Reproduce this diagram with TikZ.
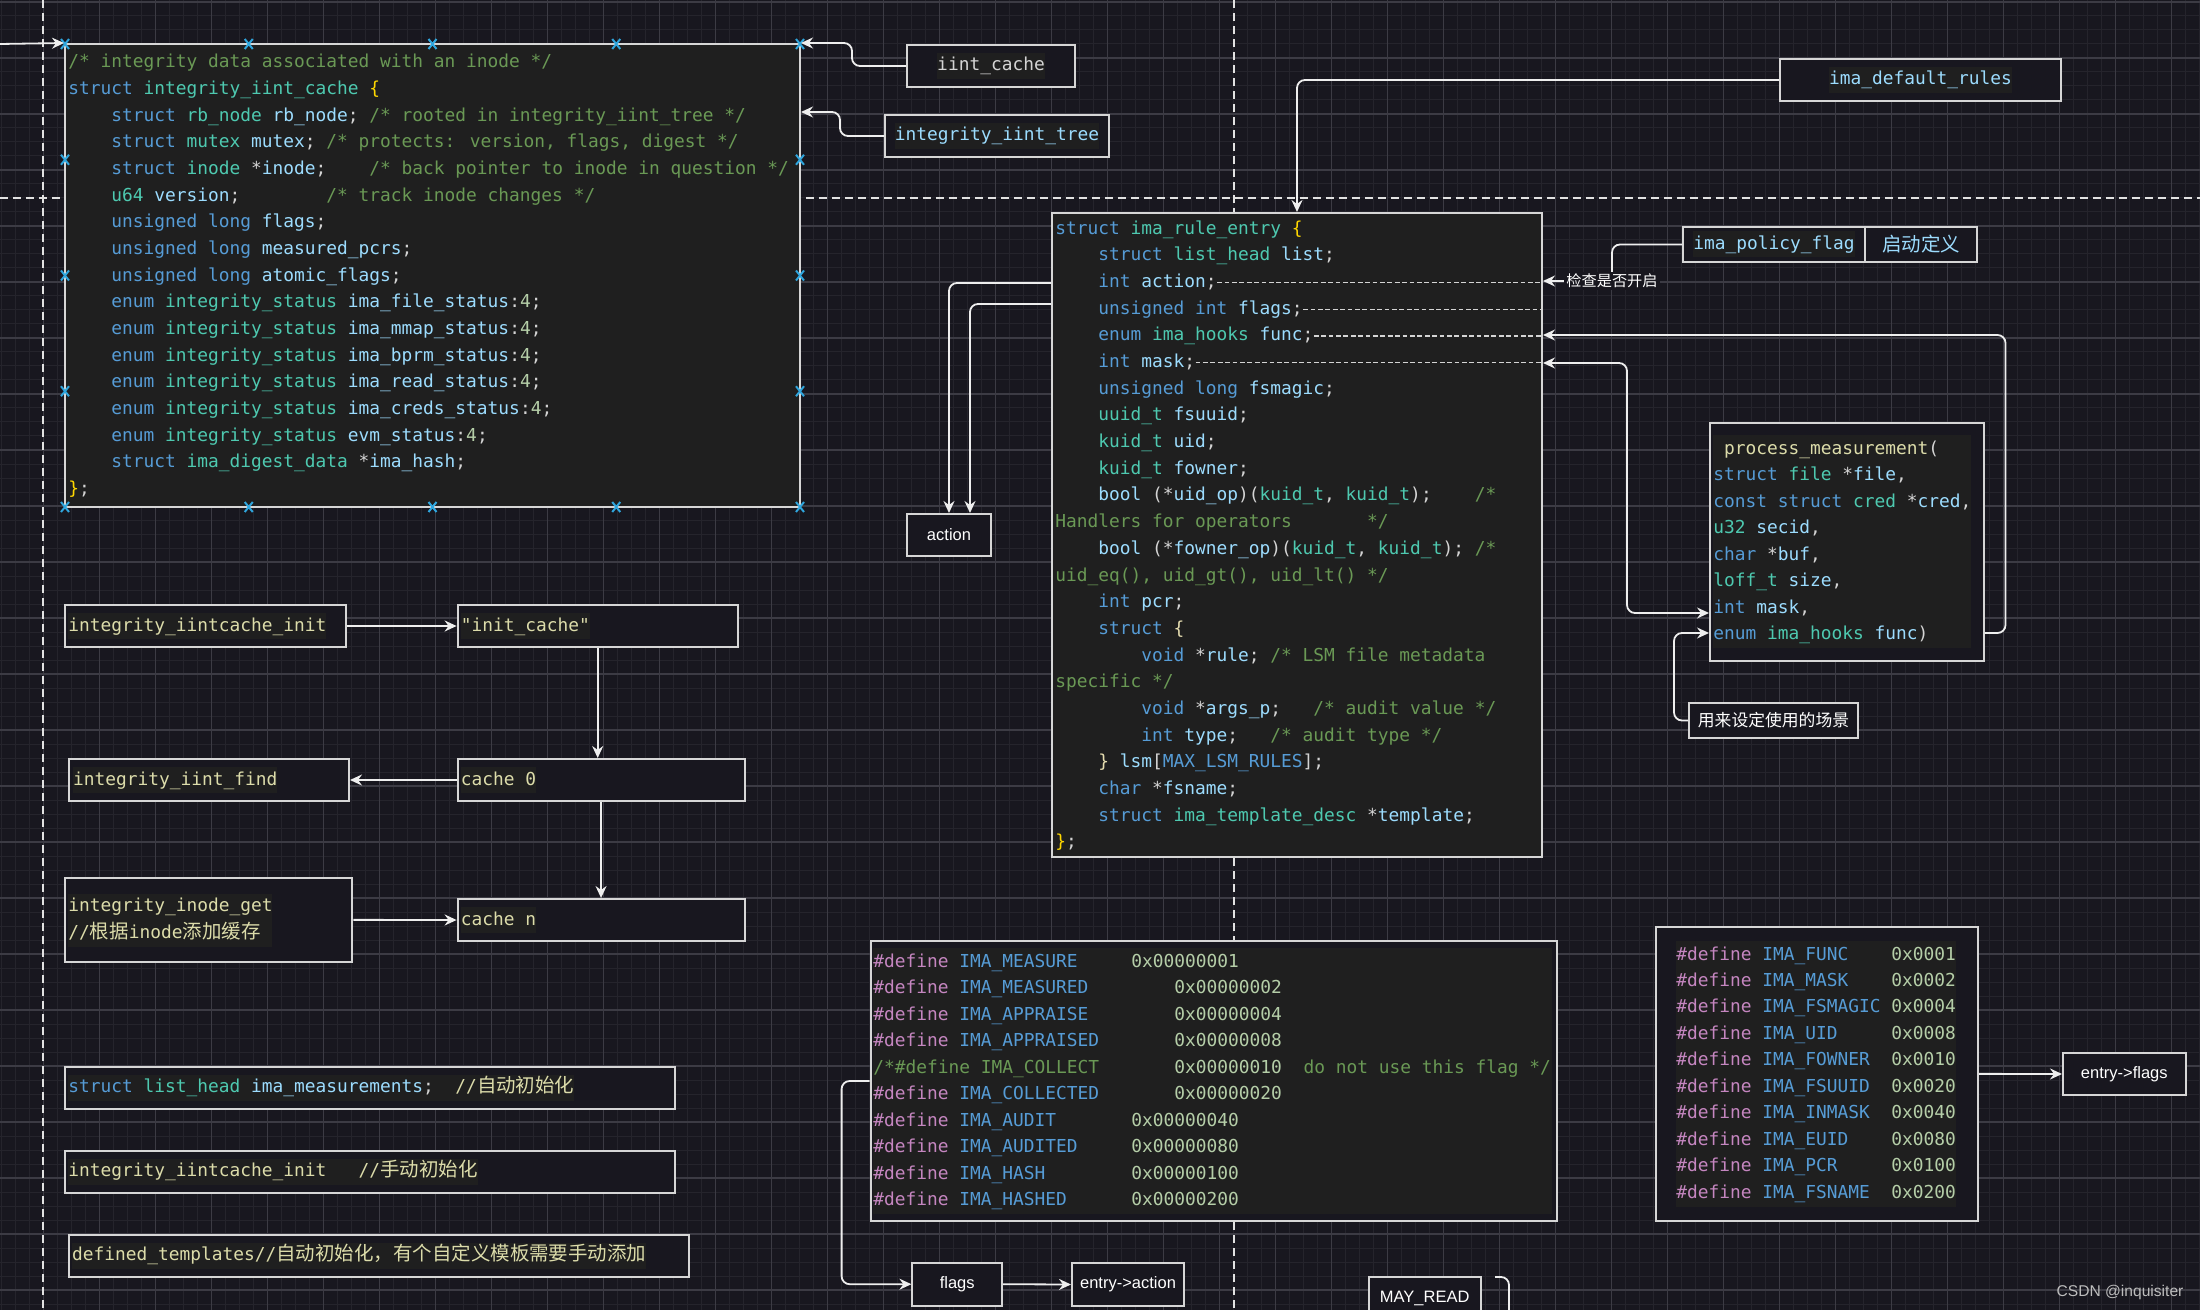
\documentclass[tikz,border=0pt]{standalone}
\usepackage{fontspec}
\newfontfamily\codefont{DejaVu Sans Mono}
\newfontfamily\cjkcode{Noto Sans CJK SC}[Scale=1.09]
\newfontfamily\cjk{Noto Sans CJK SC}
\newfontfamily\labfont{Liberation Sans}
\usetikzlibrary{arrows.meta,fit}
\definecolor{canvas}{HTML}{18171F}
\definecolor{gridminor}{HTML}{25242C}
\definecolor{gridmajor}{HTML}{3C3B44}
\definecolor{codebg}{HTML}{1F1F1F}
\definecolor{boxline}{HTML}{D6D6D6}
\definecolor{connline}{HTML}{EEEEEE}
\definecolor{dashline}{HTML}{E2E2E2}
\definecolor{handle}{HTML}{2FA6DE}
\definecolor{ckw}{HTML}{569CD6}
\definecolor{cty}{HTML}{4EC9B0}
\definecolor{cva}{HTML}{9CDCFE}
\definecolor{ccm}{HTML}{6A9955}
\definecolor{cnu}{HTML}{B5CEA8}
\definecolor{cfn}{HTML}{DCDCAA}
\definecolor{cpp}{HTML}{C586C0}
\definecolor{cbr}{HTML}{FFD700}
\definecolor{cbr2}{HTML}{E6DDB0}
\definecolor{ctx}{HTML}{D4D4D4}
\definecolor{wmark}{HTML}{BDBDBD}
\newcommand\cK[1]{\textcolor{ckw}{#1}}
\newcommand\cT[1]{\textcolor{cty}{#1}}
\newcommand\cV[1]{\textcolor{cva}{#1}}
\newcommand\cC[1]{\textcolor{ccm}{#1}}
\newcommand\cN[1]{\textcolor{cnu}{#1}}
\newcommand\cF[1]{\textcolor{cfn}{#1}}
\newcommand\cP[1]{\textcolor{cpp}{#1}}
\newcommand\cB[1]{\textcolor{cbr}{#1}}
\newcommand\cBb[1]{\textcolor{cbr2}{#1}}
\newcommand\codelines[5]{%
  \foreach \cl [count=\i from 0] in {#5} {\node[codeln] (#1\i) at (#2, {#3+\i*#4}) {\cl};}}
\tikzset{
  ctip/.tip={Stealth[length=6pt,width=5.5pt,inset=2pt]},
  box/.style={draw=boxline, line width=1pt, fill=canvas, inner sep=0pt},
  codebox/.style={box, fill=codebg},
  codeln/.style={anchor=west, inner sep=0pt, text=ctx,
    font={\codefont\fontsize{8.93pt}{11pt}\selectfont}, text height=7pt, text depth=2pt},
  hl/.style={codeln, fill=codebg, inner ysep=2pt},
  lab/.style={text=white, inner sep=0pt, font={\labfont\fontsize{8.25pt}{10pt}\selectfont}},
  cjklab/.style={text=white, inner sep=1pt, font={\cjk\fontsize{8.4pt}{10pt}\selectfont}},
  conn/.style={draw=connline, line width=0.9pt, rounded corners=4pt, -ctip},
  conn2/.style={draw=connline, line width=0.9pt, rounded corners=4pt, ctip-ctip},
  plainconn/.style={draw=connline, line width=0.9pt, rounded corners=4pt},
  dashln/.style={draw=ctx, line width=0.8pt, dash pattern=on 2.4pt off 1.3pt},
  guide/.style={draw=dashline, line width=1pt, dash pattern=on 4pt off 2.5pt},
  handlemark/.style={draw=handle, line width=1pt},
  gmin/.style={draw=gridminor, line width=0.5pt},
  gmaj/.style={draw=gridmajor, line width=0.6pt}
}
\begin{document}
\begin{tikzpicture}[x=0.5pt,y=-0.5pt]
\useasboundingbox (0,0) rectangle (2200,1310);
\clip (0,0) rectangle (2200,1310);
\fill[canvas] (0,0) rectangle (2200,1310);
% grid
\foreach \i in {0,...,157} \draw[gmin] ({1.3+14*\i},0) -- ({1.3+14*\i},1310);
\foreach \j in {0,...,93} \draw[gmin] (0,{2+14*\j}) -- (2200,{2+14*\j});
\foreach \i in {0,...,39} \draw[gmaj] ({43.3+56*\i},0) -- ({43.3+56*\i},1310);
\foreach \j in {0,...,23} \draw[gmaj] (0,{2+56*\j}) -- (2200,{2+56*\j});
% guide lines
\draw[guide] (43.3,0) -- (43.3,1310);
\draw[guide] (1234,0) -- (1234,1310);
\draw[guide] (0,198) -- (2200,198);

% ===== struct integrity_iint_cache =====
\node[codebox, fit={(65,44) (800,507)}] (box1) {};
\codelines{ic}{68}{62.7}{26.67}{%
{\cC{/* integrity data associated with an inode */}},
{\cK{struct} \cT{integrity\_iint\_cache} \cB{\{}},
{~~~~\cK{struct} \cT{rb\_node} \cV{rb\_node}; \cC{/* rooted in integrity\_iint\_tree */}},
{~~~~\cK{struct} \cT{mutex} \cV{mutex}; \cC{/* protects: version, flags, digest */}},
{~~~~\cK{struct} \cT{inode} *\cV{inode};~~~~\cC{/* back pointer to inode in question */}},
{~~~~\cT{u64} \cV{version};~~~~~~~~\cC{/* track inode changes */}},
{~~~~\cK{unsigned} \cK{long} \cV{flags};},
{~~~~\cK{unsigned} \cK{long} \cV{measured\_pcrs};},
{~~~~\cK{unsigned} \cK{long} \cV{atomic\_flags};},
{~~~~\cK{enum} \cT{integrity\_status} \cV{ima\_file\_status}:\cN{4};},
{~~~~\cK{enum} \cT{integrity\_status} \cV{ima\_mmap\_status}:\cN{4};},
{~~~~\cK{enum} \cT{integrity\_status} \cV{ima\_bprm\_status}:\cN{4};},
{~~~~\cK{enum} \cT{integrity\_status} \cV{ima\_read\_status}:\cN{4};},
{~~~~\cK{enum} \cT{integrity\_status} \cV{ima\_creds\_status}:\cN{4};},
{~~~~\cK{enum} \cT{integrity\_status} \cV{evm\_status}:\cN{4};},
{~~~~\cK{struct} \cT{ima\_digest\_data} *\cV{ima\_hash};},
{\cB{\}};}}
% selection handles
\foreach \hx in {65,248.75,432.5,616.25,800} \foreach \hy in {44,507}
  \draw[handlemark] ({\hx-4},{\hy-5}) -- ({\hx+4},{\hy+5}) ({\hx-4},{\hy+5}) -- ({\hx+4},{\hy-5});
\foreach \hy in {159.75,275.5,391.25} \foreach \hx in {65,800}
  \draw[handlemark] ({\hx-4},{\hy-5}) -- ({\hx+4},{\hy+5}) ({\hx-4},{\hy+5}) -- ({\hx+4},{\hy-5});

\node[box, fit={(907,45) (1075,87)}] (iintcache) {};
\node[hl, anchor=center] (iintcache-t) at (iintcache.center) {iint\_cache};
\node[box, fit={(885,115) (1109,157)}] (iinttree) {};
\node[hl, anchor=center, text=cva] (iinttree-t) at (iinttree.center) {integrity\_iint\_tree};
\node[box, fit={(1780,59) (2061,101)}] (defrules) {};
\node[hl, anchor=center, text=cva] (defrules-t) at (defrules.center) {ima\_default\_rules};

% ===== struct ima_rule_entry =====
\node[codebox, fit={(1052,213) (1542,857)}] (rule) {};
\codelines{rl}{1055}{229.3}{26.67}{%
{\cK{struct} \cT{ima\_rule\_entry} \cB{\{}},
{~~~~\cK{struct} \cT{list\_head} \cV{list};},
{~~~~\cK{int} \cV{action};},
{~~~~\cK{unsigned} \cK{int} \cV{flags};},
{~~~~\cK{enum} \cT{ima\_hooks} \cV{func};},
{~~~~\cK{int} \cV{mask};},
{~~~~\cK{unsigned} \cK{long} \cV{fsmagic};},
{~~~~\cT{uuid\_t} \cV{fsuuid};},
{~~~~\cT{kuid\_t} \cV{uid};},
{~~~~\cT{kuid\_t} \cV{fowner};},
{~~~~\cV{bool} (*\cV{uid\_op})(\cT{kuid\_t}, \cT{kuid\_t});~~~~\cC{/*}},
{\cC{Handlers for operators~~~~~~~*/}},
{~~~~\cV{bool} (*\cV{fowner\_op})(\cT{kuid\_t}, \cT{kuid\_t}); \cC{/*}},
{\cC{uid\_eq(), uid\_gt(), uid\_lt() */}},
{~~~~\cK{int} \cV{pcr};},
{~~~~\cK{struct} \cBb{\{}},
{~~~~~~~~\cK{void} *\cV{rule}; \cC{/* LSM file metadata}},
{\cC{specific */}},
{~~~~~~~~\cK{void} *\cV{args\_p};~~~\cC{/* audit value */}},
{~~~~~~~~\cK{int} \cV{type};~~~\cC{/* audit type */}},
{~~~~\cBb{\}} \cV{lsm}[\cK{MAX\_LSM\_RULES}];},
{~~~~\cK{char} *\cV{fsname};},
{~~~~\cK{struct} \cT{ima\_template\_desc} *\cV{template};},
{\cB{\}};}}
\foreach \k in {2,3,4,5} \draw[dashln] (rl\k.east) -- ([xshift=-1pt]rl\k.east -| rule.east);

% policy flag
\node[box, fit={(1683,227) (1865,262)}] (policy) {};
\node[hl, anchor=center, text=cva] (policy-t) at (policy.center) {ima\_policy\_flag};
\node[box, fit={(1865,227) (1977,262)}] (policydef) {};
\node[anchor=center, inner sep=0pt, text=cva, font={\cjkcode\fontsize{8.93pt}{11pt}\selectfont}] (policydef-t) at (policydef.center) {启动定义};

% process_measurement
\node[box, fit={(1710,423) (1983.5,661)}] (pm) {};
\fill[codebg] (1713,435) rectangle (1971,648);
\codelines{pl}{1713}{449}{26.57}{%
{~\cF{process\_measurement}(},
{\cK{struct} \cT{file} *\cV{file},},
{\cK{const} \cK{struct} \cT{cred} *\cV{cred},},
{\cT{u32} \cV{secid},},
{\cK{char} *\cV{buf},},
{\cT{loff\_t} \cV{size},},
{\cK{int} \cV{mask},},
{\cK{enum} \cT{ima\_hooks} \cV{func})}}

\node[box, fit={(1689,703) (1858,738)}] (scene) {};
\node[cjklab, inner sep=0pt] (scene-t) at (scene.center) {用来设定使用的场景};

\node[box, fit={(907,514) (991,556)}] (action) {};
\node[lab] (action-t) at (action.center) {action};

% ===== left column =====
\node[box, fit={(65.4,605) (345.6,647)}] (init) {};
\node[hl, text=cfn] (init-t) at (68,626) {integrity\_iintcache\_init};
\node[box, fit={(457.6,605) (737.8,647)}] (initcache) {};
\node[hl, text=cfn] (initcache-t) at (460.5,626) {"init\_cache"};
\node[box, fit={(457.6,759) (744.5,801)}] (cache0) {};
\node[hl, text=cfn] (cache0-t) at (460.5,780) {cache 0};
\node[box, fit={(68.8,759) (349,801)}] (find) {};
\node[hl, text=cfn] (find-t) at (72.7,780) {integrity\_iint\_find};
\node[box, fit={(457.6,899) (744.5,941)}] (cachen) {};
\node[hl, text=cfn] (cachen-t) at (460.5,920) {cache n};
\node[box, fit={(65.4,877.7) (352.4,962)}] (inodeget) {};
\fill[codebg] (68,893.5) rectangle (272,946.5);
\node[codeln, text=cfn] (inodeget-t1) at (68,906.7) {integrity\_inode\_get};
\node[codeln, text=cfn] (inodeget-t2) at (68,933.3) {//{\cjkcode 根据}inode{\cjkcode 添加缓存}};

\node[box, fit={(65.4,1067) (674.7,1109)}] (meas) {};
\node[hl] (meas-t) at (68,1087.7) {\cK{struct} \cT{list\_head} \cV{ima\_measurements};~~\cF{//{\cjkcode 自动初始化}}};
\node[box, fit={(65.4,1151) (674.7,1193)}] (iintinit2) {};
\node[hl, text=cfn] (iintinit2-t) at (68,1171.7) {integrity\_iintcache\_init~~~//{\cjkcode 手动初始化}};
\node[box, fit={(68.8,1235) (688.8,1277)}] (deftempl) {};
\node[hl, text=cfn] (deftempl-t) at (71.7,1255.7) {defined\_templates//{\cjkcode 自动初始化，有个自定义模板需要手动添加}};

% ===== define blocks =====
\node[box, fit={(870.6,941) (1556.8,1221)}] (def1) {};
\fill[codebg] (873,948) rectangle (1551.7,1214);
\codelines{da}{873}{962}{26.52}{%
{\cP{\#define} \cK{IMA\_MEASURE}~~~~~\cN{0x00000001}},
{\cP{\#define} \cK{IMA\_MEASURED}~~~~~~~~\cN{0x00000002}},
{\cP{\#define} \cK{IMA\_APPRAISE}~~~~~~~~\cN{0x00000004}},
{\cP{\#define} \cK{IMA\_APPRAISED}~~~~~~~\cN{0x00000008}},
{\cC{/*\#define IMA\_COLLECT~~~~~~~}\cN{0x00000010}\cC{~~do not use this flag */}},
{\cP{\#define} \cK{IMA\_COLLECTED}~~~~~~~\cN{0x00000020}},
{\cP{\#define} \cK{IMA\_AUDIT}~~~~~~~\cN{0x00000040}},
{\cP{\#define} \cK{IMA\_AUDITED}~~~~~\cN{0x00000080}},
{\cP{\#define} \cK{IMA\_HASH}~~~~~~~~\cN{0x00000100}},
{\cP{\#define} \cK{IMA\_HASHED}~~~~~~\cN{0x00000200}}}

\node[box, fit={(1655.5,926.7) (1978,1221)}] (def2) {};
\fill[codebg] (1676,940.7) rectangle (1956,1206.7);
\codelines{db}{1676}{955}{26.48}{%
{\cP{\#define} \cK{IMA\_FUNC}~~~~\cN{0x0001}},
{\cP{\#define} \cK{IMA\_MASK}~~~~\cN{0x0002}},
{\cP{\#define} \cK{IMA\_FSMAGIC}~\cN{0x0004}},
{\cP{\#define} \cK{IMA\_UID}~~~~~\cN{0x0008}},
{\cP{\#define} \cK{IMA\_FOWNER}~~\cN{0x0010}},
{\cP{\#define} \cK{IMA\_FSUUID}~~\cN{0x0020}},
{\cP{\#define} \cK{IMA\_INMASK}~~\cN{0x0040}},
{\cP{\#define} \cK{IMA\_EUID}~~~~\cN{0x0080}},
{\cP{\#define} \cK{IMA\_PCR}~~~~~\cN{0x0100}},
{\cP{\#define} \cK{IMA\_FSNAME}~~\cN{0x0200}}}

\node[box, fit={(912.4,1262.7) (1002,1305.7)}] (flags) {};
\node[lab] (flags-t) at (flags.center) {flags};
\node[box, fit={(1072,1263) (1184,1306)}] (entryaction) {};
\node[lab] (entryaction-t) at (entryaction.center) {entry->action};
\node[box, fit={(1368.6,1276.7) (1480.8,1330)}] (mayread) {};
\node[lab] (mayread-t) at (1424.7,1298) {MAY\_READ};
\node[box, fit={(2063,1053) (2185.5,1095)}] (entryflags) {};
\node[lab] (entryflags-t) at (entryflags.center) {entry->flags};

% ===== connectors =====
\coordinate (leftin) at (0,44);
\draw[conn] (leftin) -- (box1.north west);
\draw[conn] (iintcache.west) -- ++(-54,0) |- (box1.north east);
\draw[conn] (iinttree.west) -- ++(-44,0) |- (box1.east |- 0,112);
\draw[conn] (defrules.west) -| (rule.north);
\coordinate (chkpt) at (1612,281);
\draw[conn] (policy.west) -| (chkpt) -- (chkpt -| rule.east);
\node[fill=canvas, inner sep=1pt, text=white, font={\cjk\fontsize{7.6pt}{9pt}\selectfont}] (chk) at (chkpt) {检查是否开启};
\draw[conn] (pm.east |- 0,633) -- ++(21,0) |- (rule.east |- 0,335);
\draw[conn2] (rule.east |- 0,363) -- ++(84,0) |- (pm.west |- 0,613);
\draw[conn] (scene.west) -- ++(-14,0) |- (pm.west |- 0,633);
\draw[conn] (rule.west |- 0,283) -| (action.north);
\draw[conn] (rule.west |- 0,304) -| (970,0 |- action.north);

\draw[conn] (init.east) -- (initcache.west);
\draw[conn] (initcache.south) -- (initcache.south |- cache0.north);
\draw[conn] (cache0.west) -- (find.east);
\draw[conn] (cache0.south) -- (cachen.north);
\draw[conn] (inodeget.east) -- (cachen.west);

\draw[conn] (def1.west |- 0,1081) -- ++(-28,0) |- (flags.west);
\draw[conn] (flags.east) -- (entryaction.west);
\draw[conn] (def2.east) -- (entryflags.west);
\coordinate (mr1) at (1495,1277);
\coordinate (mr2) at (1509,1330);
\draw[plainconn] (mr1) -| (mr2);

\node[text=wmark, inner sep=0pt, font={\labfont\fontsize{7.8pt}{9pt}\selectfont}] (wm) at (2120,1292) {CSDN @inquisiter};
\end{tikzpicture}
\end{document}
